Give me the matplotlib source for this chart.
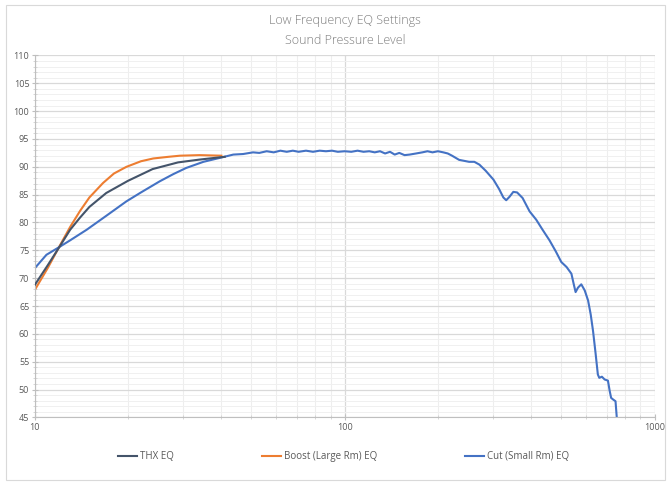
import numpy as np
import matplotlib.pyplot as plt
from matplotlib.patches import Rectangle
from matplotlib.ticker import FixedLocator, NullFormatter

plt.rcParams['font.family'] = ['Open Sans', 'DejaVu Sans']

# THX EQ
thx_freq = [10, 11, 12, 13, 14, 15, 17, 20, 24, 29, 34, 38, 41]
thx_spl = [68.8, 72.3, 75.6, 78.7, 80.9, 82.8, 85.3, 87.5, 89.6, 90.8, 91.3, 91.6, 91.8]

# Boost (Large Rm) EQ
boost_freq = [10, 11, 12, 13, 14, 15, 16.6, 18, 19.75, 22, 24.1, 27, 29.4, 34, 40]
boost_spl = [67.9, 71.8, 75.7, 79.2, 82.1, 84.5, 87.1, 88.8, 90.0, 91.0, 91.5, 91.8, 92.0, 92.1, 92.0]

# Cut (Small Rm) EQ
cut_freq = [10, 10.9, 12, 13, 14.7, 17, 19.75, 22, 25.3, 28, 30.8, 35, 39.5, 43.7, 47,
            50.6, 53, 56, 59, 62, 65, 68, 71, 75, 79, 83, 87, 91, 95, 100, 105, 110,
            115, 120, 125, 130, 135, 140, 145, 150, 156, 162, 170, 178, 185, 192, 200,
            208, 215, 222, 234, 252, 262, 272, 285, 302, 315, 325, 332, 340, 350, 360,
            375, 395, 415, 435, 458, 480, 500, 520, 539, 548, 556, 566, 580, 595, 610,
            622, 633, 645, 656, 663, 676, 690, 707, 716, 724, 735, 748, 755]
cut_spl = [71.8, 74.2, 75.6, 76.8, 78.7, 81.2, 83.8, 85.4, 87.4, 88.7, 89.8, 90.9, 91.6, 92.2, 92.3,
           92.6, 92.5, 92.8, 92.6, 92.9, 92.7, 92.9, 92.7, 92.9, 92.7, 92.9, 92.8, 92.9, 92.7, 92.8, 92.7, 92.9,
           92.7, 92.8, 92.6, 92.8, 92.4, 92.7, 92.2, 92.5, 92.1, 92.2, 92.4, 92.6, 92.8, 92.6, 92.8,
           92.6, 92.4, 92.0, 91.25, 90.9, 90.9, 90.4, 89.3, 87.7, 86.0, 84.5, 84.0, 84.6, 85.5, 85.4,
           84.4, 82.0, 80.5, 78.7, 76.8, 74.8, 72.9, 72.0, 70.8, 69.0, 67.5, 68.3, 68.9, 67.8, 66.0,
           63.5, 60.5, 56.5, 52.7, 52.1, 52.3, 51.8, 51.6, 49.8, 48.5, 48.2, 47.9, 45.0]

fig = plt.figure(figsize=(6.7, 4.91), dpi=100)
ax = fig.add_axes([0.052, 0.150, 0.925, 0.737])

# chart border
fig.patches.append(Rectangle((0.009, 0.022), 0.983, 0.968, transform=fig.transFigure,
                             fill=False, edgecolor='#d9d9d9', linewidth=0.8))

ax.plot(thx_freq, thx_spl, color='#44546A', lw=1.5, label='THX EQ', zorder=3)
ax.plot(boost_freq, boost_spl, color='#ED7D31', lw=1.5, label='Boost (Large Rm) EQ', zorder=2)
ax.plot(cut_freq, cut_spl, color='#4472C4', lw=1.5, label='Cut (Small Rm) EQ', zorder=2)

ax.set_xscale('log')
ax.set_xlim(10, 1000)
ax.set_ylim(45, 110)
ax.set_yticks(np.arange(45, 111, 5))
ax.yaxis.set_minor_locator(FixedLocator(np.arange(45, 111, 1)))
ax.xaxis.set_minor_locator(FixedLocator([m * d for d in (10, 100) for m in range(2, 10)]))
ax.xaxis.set_minor_formatter(NullFormatter())
ax.set_xticks([10, 100, 1000])
ax.set_xticklabels(['10', '100', '1000'])

ax.grid(which='major', axis='y', color='#d9d9d9', lw=0.9)
ax.grid(which='minor', axis='y', color='#f0f0f0', lw=0.7)
ax.grid(which='major', axis='x', color='#d9d9d9', lw=0.9)
ax.grid(which='minor', axis='x', color='#eeeeee', lw=0.8)
ax.set_axisbelow(True)

for s in ['top', 'right']:
    ax.spines[s].set_visible(False)
for s in ['left', 'bottom']:
    ax.spines[s].set_color('#bfbfbf')
    ax.spines[s].set_linewidth(0.8)

ax.tick_params(which='major', direction='inout', length=4, color='#bfbfbf',
               labelsize=6.5, labelcolor='#595959', pad=2)
ax.tick_params(which='minor', direction='inout', length=3, color='#d0d0d0')

fig.text(0.515, 0.958, 'Low Frequency EQ Settings', ha='center', va='center',
         fontsize=9, color='#7f7f7f', fontweight='light')
fig.text(0.515, 0.918, 'Sound Pressure Level', ha='center', va='center',
         fontsize=9, color='#7f7f7f', fontweight='light')

fig.legend(loc='center', bbox_to_anchor=(0.513, 0.07), ncol=3, frameon=False,
           fontsize=7, handlelength=2.0, handletextpad=0.3, columnspacing=9,
           labelcolor='#595959')

fig.savefig('out.png', dpi=100, facecolor='white')
